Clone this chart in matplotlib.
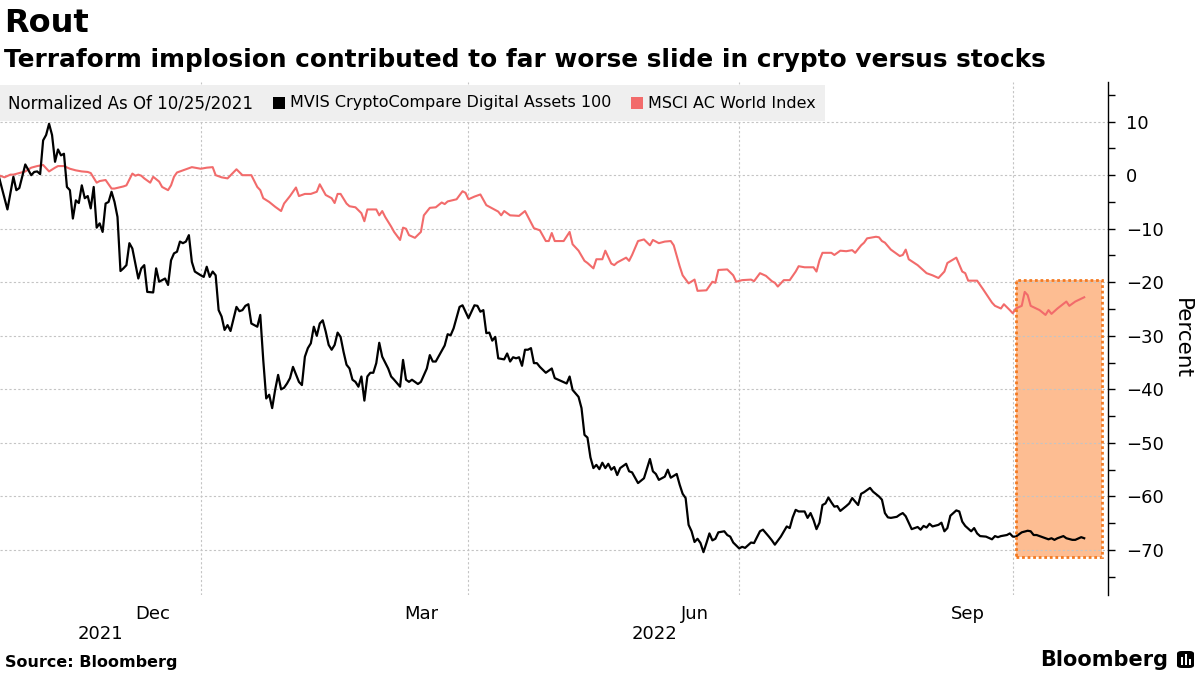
import matplotlib
matplotlib.use("Agg")
import matplotlib.pyplot as plt
import matplotlib.dates as mdates
import matplotlib.transforms as mtransforms
from matplotlib.patches import Rectangle, FancyBboxPatch
import pandas as pd

# Normalized % change since 10/25/2021, keyed by calendar days since that date
start = pd.Timestamp("2021-10-25")

crypto_days = [
    0, 3, 5, 6, 7, 9, 11, 12, 13, 14, 15, 16, 17, 18, 19, 20, 21, 22, 23, 24,
    25, 26, 27, 28, 29, 30, 31, 32, 33, 34, 35, 36, 37, 38, 39, 40, 41, 42, 43, 44,
    45, 47, 48, 49, 50, 52, 53, 54, 55, 56, 57, 58, 59, 60, 61, 62, 63, 64, 65, 66,
    68, 69, 70, 71, 72, 73, 74, 75, 76, 77, 78, 80, 81, 82, 83, 84, 85, 87, 88, 89,
    90, 91, 92, 93, 94, 95, 96, 97, 98, 99, 101, 102, 103, 104, 105, 106, 107, 108, 109, 110,
    111, 112, 113, 114, 115, 116, 117, 118, 119, 120, 121, 122, 123, 124, 125, 126, 127, 128, 129, 131,
    132, 133, 135, 136, 137, 138, 139, 141, 142, 144, 145, 146, 147, 149, 150, 151, 152, 153, 155, 156,
    158, 159, 160, 161, 162, 163, 164, 165, 166, 167, 168, 170, 171, 172, 173, 174, 175, 176, 177, 178,
    179, 180, 181, 182, 184, 186, 187, 189, 191, 192, 193, 195, 196, 197, 198, 199, 200, 201, 202, 203,
    204, 205, 206, 207, 208, 209, 211, 212, 213, 215, 217, 219, 220, 221, 222, 224, 225, 226, 228, 229,
    230, 231, 232, 233, 234, 235, 236, 237, 238, 239, 240, 241, 242, 244, 245, 246, 247, 249, 250, 251,
    253, 254, 256, 257, 259, 260, 261, 263, 265, 266, 267, 268, 269, 271, 272, 273, 274, 275, 276, 277,
    278, 279, 280, 281, 282, 283, 285, 286, 287, 289, 290, 291, 293, 294, 296, 297, 298, 299, 300, 302,
    303, 304, 305, 307, 309, 310, 311, 312, 313, 314, 316, 317, 318, 319, 320, 322, 323, 324, 325, 327,
    328, 329, 330, 332, 334, 335, 336, 337, 339, 340, 341, 342, 344, 346, 347, 348, 349, 351, 353, 354,
    355, 356, 358, 359, 361, 362, 364, 365,
]
crypto_vals = [
    0.0, -6.4, -0.3, -2.8, -2.4, 2.0, 0.0, 0.6, 0.7, 0.2, 6.5, 7.5, 9.6, 7.5, 2.5, 4.8, 3.7, 4.0, -2.2, -2.8,
    -8.1, -4.7, -5.2, -1.9, -4.3, -3.9, -6.2, -2.2, -9.8, -9.0, -10.6, -5.3, -5.0, -3.1, -5.0, -7.8, -17.9, -17.4, -16.8, -12.7,
    -13.7, -19.3, -17.4, -16.8, -21.8, -21.9, -17.4, -19.9, -19.6, -19.3, -20.5, -15.9, -14.6, -14.3, -12.4, -12.7, -12.4, -11.2, -16.2, -18.0,
    -18.7, -19.0, -17.1, -19.0, -18.0, -18.7, -25.2, -26.4, -28.9, -28.0, -29.1, -24.6, -25.4, -25.2, -24.4, -24.1, -27.7, -28.3, -26.1, -34.5,
    -41.7, -41.0, -43.5, -40.1, -37.3, -40.0, -39.7, -38.9, -37.9, -35.8, -38.6, -39.2, -33.9, -32.3, -31.4, -28.3, -30.0, -27.7, -27.1, -29.2,
    -31.7, -32.6, -31.7, -29.4, -30.2, -33.0, -35.4, -36.1, -38.2, -38.6, -39.5, -37.6, -42.1, -37.6, -36.9, -36.9, -35.1, -31.3, -33.9, -36.1,
    -37.6, -38.2, -39.5, -34.5, -38.2, -38.6, -38.2, -39.0, -38.6, -36.1, -33.6, -34.8, -34.8, -32.8, -31.8, -29.7, -29.9, -28.6, -24.6, -24.3,
    -26.7, -25.5, -24.3, -24.4, -25.5, -25.2, -29.5, -29.4, -30.9, -30.2, -34.2, -34.4, -33.3, -34.8, -34.0, -34.2, -34.0, -35.6, -32.6, -32.6,
    -32.3, -35.1, -35.1, -35.8, -36.9, -36.1, -37.9, -38.4, -38.9, -37.6, -40.1, -41.4, -43.5, -48.5, -49.0, -52.7, -54.7, -54.1, -54.9, -53.7,
    -54.7, -53.9, -55.0, -54.5, -56.0, -54.7, -53.9, -55.3, -55.5, -57.5, -56.6, -53.0, -55.3, -55.8, -56.9, -56.3, -55.0, -56.5, -55.8, -57.8,
    -59.5, -60.3, -65.3, -66.5, -68.5, -67.9, -68.7, -70.4, -68.7, -66.9, -68.2, -67.9, -66.7, -66.5, -67.2, -67.5, -68.6, -69.7, -69.4, -69.6,
    -68.6, -68.7, -66.5, -66.2, -67.5, -68.2, -69.0, -67.5, -65.6, -65.9, -63.9, -62.5, -62.8, -62.8, -64.0, -63.1, -64.4, -66.1, -64.9, -61.6,
    -61.3, -60.2, -61.1, -61.9, -61.8, -62.7, -61.8, -61.3, -60.3, -61.6, -59.5, -59.2, -58.4, -59.1, -60.0, -60.6, -63.1, -63.9, -64.0, -63.8,
    -63.4, -63.1, -63.7, -66.1, -65.7, -66.2, -65.5, -65.8, -65.1, -65.6, -65.3, -64.9, -66.5, -65.9, -63.6, -62.6, -62.8, -64.7, -65.5, -66.5,
    -65.9, -66.9, -67.4, -67.5, -68.0, -67.4, -67.6, -67.4, -67.2, -66.9, -67.5, -67.5, -66.7, -66.4, -66.5, -67.2, -67.2, -67.6, -68.0, -67.8,
    -68.1, -67.8, -67.4, -67.8, -68.1, -68.1, -67.6, -67.8,
]

msci_days = [
    0, 2, 4, 5, 7, 9, 11, 13, 15, 17, 19, 20, 22, 24, 26, 28, 30, 31, 33, 34,
    36, 38, 39, 42, 43, 45, 46, 47, 48, 49, 51, 52, 54, 55, 57, 58, 59, 60, 63, 65,
    68, 70, 72, 73, 75, 77, 80, 82, 85, 87, 88, 89, 91, 93, 95, 96, 98, 100, 101, 103,
    105, 107, 108, 110, 112, 113, 114, 115, 117, 118, 120, 122, 123, 124, 127, 128, 129, 130, 132, 133,
    135, 136, 137, 138, 140, 142, 143, 145, 147, 149, 150, 151, 154, 156, 157, 158, 160, 162, 164, 165,
    168, 169, 170, 172, 175, 177, 180, 182, 184, 185, 186, 187, 190, 192, 193, 195, 197, 198, 200, 201,
    203, 204, 206, 207, 208, 211, 212, 213, 215, 217, 219, 220, 222, 224, 226, 227, 229, 230, 232, 234,
    235, 238, 240, 241, 242, 245, 247, 248, 250, 253, 254, 256, 258, 260, 261, 262, 264, 266, 268, 269,
    271, 274, 275, 276, 277, 280, 281, 283, 285, 287, 288, 290, 291, 292, 295, 296, 297, 298, 300, 301,
    303, 304, 305, 306, 309, 312, 314, 316, 318, 319, 322, 324, 325, 326, 329, 331, 334, 335, 337, 338,
    340, 341, 342, 344, 345, 346, 347, 350, 352, 353, 354, 356, 359, 360, 362, 365,
]
msci_vals = [
    0.0, -0.4, 0.1, 0.1, 0.4, 0.7, 1.4, 1.7, 1.9, 0.7, 1.4, 1.7, 1.7, 1.2, 0.9, 0.7, 0.6, 0.4, -1.4, -1.1,
    -0.9, -2.5, -2.5, -2.1, -1.9, 0.3, -0.1, 0.1, -0.1, -0.6, -1.4, -0.3, -1.2, -2.2, -2.8, -1.9, -0.3, 0.5, 1.1, 1.5,
    1.2, 1.4, 1.5, 0.0, -0.4, -0.6, 1.1, 0.0, 0.0, -2.2, -2.8, -4.3, -5.0, -5.9, -6.7, -5.3, -3.9, -2.3, -3.9, -3.5,
    -3.5, -3.1, -1.7, -3.7, -4.3, -5.2, -3.5, -3.5, -5.3, -5.8, -6.0, -7.1, -8.6, -6.4, -6.4, -7.5, -6.7, -7.8, -9.6, -10.6,
    -12.1, -9.8, -10.0, -11.2, -11.7, -10.6, -7.5, -6.1, -6.0, -5.1, -5.4, -4.9, -4.5, -3.0, -3.3, -4.5, -4.0, -3.6, -5.6, -5.9,
    -6.8, -7.5, -6.7, -7.5, -7.6, -6.7, -9.9, -10.3, -12.3, -12.3, -10.8, -12.3, -12.3, -10.6, -12.9, -14.1, -16.0, -16.4, -17.4, -15.7,
    -15.7, -14.1, -16.5, -16.8, -16.3, -15.4, -16.0, -14.9, -12.3, -12.0, -13.1, -12.1, -12.7, -12.4, -12.3, -13.1, -17.0, -18.7, -20.2, -19.5,
    -21.6, -21.5, -19.9, -20.1, -17.7, -17.6, -18.7, -19.9, -19.6, -19.5, -19.8, -18.3, -18.8, -19.8, -20.1, -20.8, -19.6, -19.6, -18.0, -17.0,
    -17.2, -17.2, -18.0, -15.9, -14.5, -14.5, -14.9, -14.1, -14.2, -14.0, -14.5, -13.1, -12.6, -11.8, -11.5, -11.6, -12.3, -12.6, -13.9, -14.3,
    -15.1, -14.9, -13.9, -15.7, -16.8, -18.3, -18.7, -19.2, -18.0, -16.4, -15.4, -18.0, -18.3, -19.7, -19.7, -21.3, -23.8, -24.4, -24.9, -24.1,
    -25.2, -25.8, -24.9, -24.4, -21.8, -22.4, -24.4, -25.2, -26.1, -25.2, -25.9, -24.9, -23.6, -24.4, -23.6, -22.8,
]

series_names = ["MVIS CryptoCompare Digital Assets 100", "MSCI AC World Index"]
series_colors = ["#000000", "#F26B6B"]
legend_note = "Normalized As Of 10/25/2021"

# highlighted window shown in the chart
highlight_start = "2022-10-02"
highlight_end = "2022-10-31"
highlight_low, highlight_high = -71.3, -19.5

month_labels = ["Dec", "Mar", "Jun", "Sep"]
month_label_dates = ["2021-12-16", "2022-03-16", "2022-06-16", "2022-09-16"]
quarter_lines = ["2022-01-01", "2022-04-01", "2022-07-01", "2022-10-01"]
year_labels = ["2021", "2022"]

crypto_dates = start + pd.to_timedelta(crypto_days, unit="D")
msci_dates = start + pd.to_timedelta(msci_days, unit="D")

W, H = 1200, 675
fig = plt.figure(figsize=(W / 100, H / 100), dpi=100)
ax = fig.add_axes([0.0, (H - 595) / H, 1108 / W, (595 - 82) / H])


def fx(x):
    return x / W


def fy(y):
    return 1 - y / H


x_left = start + pd.Timedelta(days=0.5)
x_right = start + pd.Timedelta(days=373)
ax.set_xlim(x_left, x_right)
ax.set_ylim(-78.4, 17.4)

# highlight box
hs, he = mdates.date2num(pd.Timestamp(highlight_start)), mdates.date2num(pd.Timestamp(highlight_end))
ax.add_patch(Rectangle((hs, highlight_low), he - hs, highlight_high - highlight_low,
                       facecolor="#FDBD92", edgecolor="none", zorder=1))
ax.add_patch(Rectangle((hs, highlight_low), he - hs, highlight_high - highlight_low,
                       facecolor="none", edgecolor="#F37A22", linestyle=(0, (1, 1)),
                       linewidth=2.0, zorder=4))

ax.plot(msci_dates, msci_vals, color=series_colors[1], lw=1.5, zorder=3, solid_joinstyle="round")
ax.plot(crypto_dates, crypto_vals, color=series_colors[0], lw=1.6, zorder=3, solid_joinstyle="round")

# axes styling
for s in ["top", "left", "bottom"]:
    ax.spines[s].set_visible(False)
ax.spines["right"].set_color("black")
ax.spines["right"].set_linewidth(1.0)

ax.yaxis.tick_right()
ax.set_yticks(range(-70, 11, 10))
ax.set_yticks(range(-75, 16, 5), minor=True)
ax.tick_params(axis="y", which="both", direction="out", length=5, width=1, pad=8,
               labelsize=13, colors="black")
ax.yaxis.set_label_position("right")
ax.set_ylabel("Percent", rotation=270, fontsize=15.5, labelpad=20)
ax.grid(axis="y", color="#c4c4c4", linestyle=(0, (2, 2)), linewidth=0.8)

# quarter gridlines and mid-month labels
ax.set_xticks([mdates.date2num(pd.Timestamp(d)) for d in quarter_lines])
ax.set_xticks([mdates.date2num(pd.Timestamp(d)) for d in month_label_dates], minor=True)
ax.set_xticklabels([], minor=False)
ax.set_xticklabels(month_labels, minor=True)
ax.tick_params(axis="x", which="both", length=0, labelsize=13, pad=7)
ax.grid(axis="x", which="major", color="#c4c4c4", linestyle=(0, (2, 2)), linewidth=0.8)

jan1 = mdates.date2num(pd.Timestamp("2022-01-01"))
xl, xr = ax.get_xlim()
trans = mtransforms.blended_transform_factory(ax.transData, fig.transFigure)
ax.text((xl + jan1) / 2, fy(634), year_labels[0], transform=trans, ha="center", va="center", fontsize=13)
ax.text((jan1 + xr) / 2, fy(634), year_labels[1], transform=trans, ha="center", va="center", fontsize=13)

# titles
fig.text(fx(4), fy(23), "Rout", fontsize=23, fontweight="bold", va="center", ha="left")
fig.text(fx(4), fy(60), "Terraform implosion contributed to far worse slide in crypto versus stocks",
         fontsize=17.8, fontweight="bold", va="center", ha="left")

# legend bar
fig.patches.append(Rectangle((0, fy(121)), fx(825), fy(85) - fy(121), transform=fig.transFigure,
                             facecolor="#EFEFEF", edgecolor="none", zorder=5))
fig.text(fx(8), fy(103), legend_note, fontsize=12, va="center", ha="left", zorder=6)
for sx, tx, name, col in [(273, 290, series_names[0], series_colors[0]),
                          (631, 648, series_names[1], series_colors[1])]:
    fig.patches.append(Rectangle((fx(sx), fy(109)), fx(12), fy(97) - fy(109),
                                 transform=fig.transFigure, facecolor=col, edgecolor="none", zorder=6))
    fig.text(fx(tx), fy(103), name, fontsize=11.5, va="center", ha="left", zorder=6)

# footer
fig.text(fx(5), fy(662), "Source: Bloomberg", fontsize=11.5, fontweight="bold", va="center", ha="left")
fig.text(fx(1168), fy(660), "Bloomberg", fontsize=15, fontweight="bold", va="center", ha="right")
fig.patches.append(FancyBboxPatch((fx(1177), fy(668)), fx(17), fy(651) - fy(668),
                                  boxstyle="round,pad=0,rounding_size=0.004",
                                  transform=fig.transFigure, facecolor="black", edgecolor="none"))
for bx, bh in [(1181, 8), (1185, 11), (1189, 6)]:
    fig.patches.append(Rectangle((fx(bx), fy(665)), fx(2), fy(665 - bh) - fy(665),
                                 transform=fig.transFigure, facecolor="white", edgecolor="none"))

fig.savefig("out.png", dpi=100)
